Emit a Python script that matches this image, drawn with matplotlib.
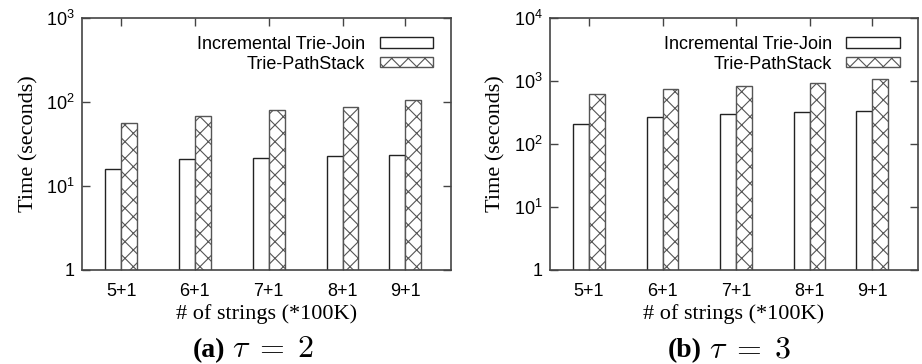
import matplotlib
matplotlib.use("Agg")
import matplotlib.pyplot as plt
from matplotlib.ticker import FixedLocator, FixedFormatter, NullLocator

# Data
groups = ["5+1", "6+1", "7+1", "8+1", "9+1"]
series_names = ["Incremental Trie-Join", "Trie-PathStack"]
tau2_incremental = [15.8, 20.8, 21.5, 22.6, 23.2]
tau2_pathstack = [56.7, 68.7, 79.6, 87.9, 104.8]
tau3_incremental = [205, 268, 296, 319, 338]
tau3_pathstack = [629, 746, 833, 918, 1062]

# Layout
group_pos = [0, 1, 2, 3, 3.85]
bar_w = 0.215

plt.rcParams["mathtext.fontset"] = "custom"
plt.rcParams["mathtext.rm"] = "Liberation Sans"
plt.rcParams["mathtext.it"] = "Liberation Sans:italic"
plt.rcParams["mathtext.bf"] = "Liberation Sans:bold"
plt.rcParams["hatch.linewidth"] = 0.8

SANS = "Liberation Sans"
SERIF = "Liberation Serif"
EDGE = "#444444"
W, H = 922, 364

fig = plt.figure(figsize=(W / 100, H / 100), dpi=100)
axes_boxes = [
    [82 / W, 1 - 270 / H, (451 - 82) / W, (270 - 18) / H],
    [550 / W, 1 - 270 / H, (917.7 - 550) / W, (270 - 18) / H],
]
caption_split_px = [229, 706]
panels = [
    (tau2_incremental, tau2_pathstack, 3, "(a)", r"$\tau\;=\;2$"),
    (tau3_incremental, tau3_pathstack, 4, "(b)", r"$\tau\;=\;3$"),
]

for box, split, (inc, ps, top_exp, tag, cap) in zip(axes_boxes, caption_split_px, panels):
    ax = fig.add_axes(box)
    left_x = [p - bar_w for p in group_pos]
    ax.bar(left_x, inc, width=bar_w, align="edge", color="white",
           edgecolor="#222222", linewidth=1.0, label=series_names[0], zorder=2)
    ax.bar(group_pos, ps, width=bar_w, align="edge", color="white",
           edgecolor="#555555", linewidth=1.0, hatch="xx",
           label=series_names[1], zorder=2)
    ax.set_yscale("log")
    ax.set_ylim(1, 10 ** top_exp)
    ax.set_xlim(-0.53, 4.47)

    decades = [10 ** k for k in range(top_exp + 1)]
    labels = ["1"] + [r"$\mathregular{10^{%d}}$" % k for k in range(1, top_exp + 1)]
    ax.yaxis.set_major_locator(FixedLocator(decades))
    ax.yaxis.set_major_formatter(FixedFormatter(labels))
    ax.yaxis.set_minor_locator(NullLocator())
    ax.set_xticks(group_pos)
    ax.set_xticklabels(groups)

    ax.tick_params(axis="both", direction="in", length=6, width=1.0,
                   color=EDGE, labelsize=13, top=True, right=True)
    ax.tick_params(axis="x", pad=9)
    ax.tick_params(axis="y", pad=5)
    for lbl in ax.get_xticklabels() + ax.get_yticklabels():
        lbl.set_fontfamily(SANS)
    for sp in ax.spines.values():
        sp.set_color(EDGE)
        sp.set_linewidth(1.2)

    ax.set_ylabel("Time (seconds)", fontfamily=SERIF, fontsize=16, labelpad=6)
    ax.set_xlabel("# of strings (*100K)", fontfamily=SERIF, fontsize=16,
                  labelpad=3)

    ax.legend(loc="upper right", frameon=False, markerfirst=False,
              prop={"family": SANS, "size": 13}, handlelength=2.95,
              handleheight=0.5, handletextpad=0.8, labelspacing=0.15,
              borderpad=0.3, borderaxespad=0.7)

    # Panel caption: bold tag followed by the threshold in math type
    y_base = 1 - 357 / H
    fig.text((split - 4) / W, y_base, tag, fontfamily=SERIF,
             fontweight="bold", fontsize=20, ha="right", va="baseline")
    fig.text((split + 3) / W, y_base, cap, math_fontfamily="cm",
             fontsize=23, ha="left", va="baseline")

fig.savefig("out.png", dpi=100)
